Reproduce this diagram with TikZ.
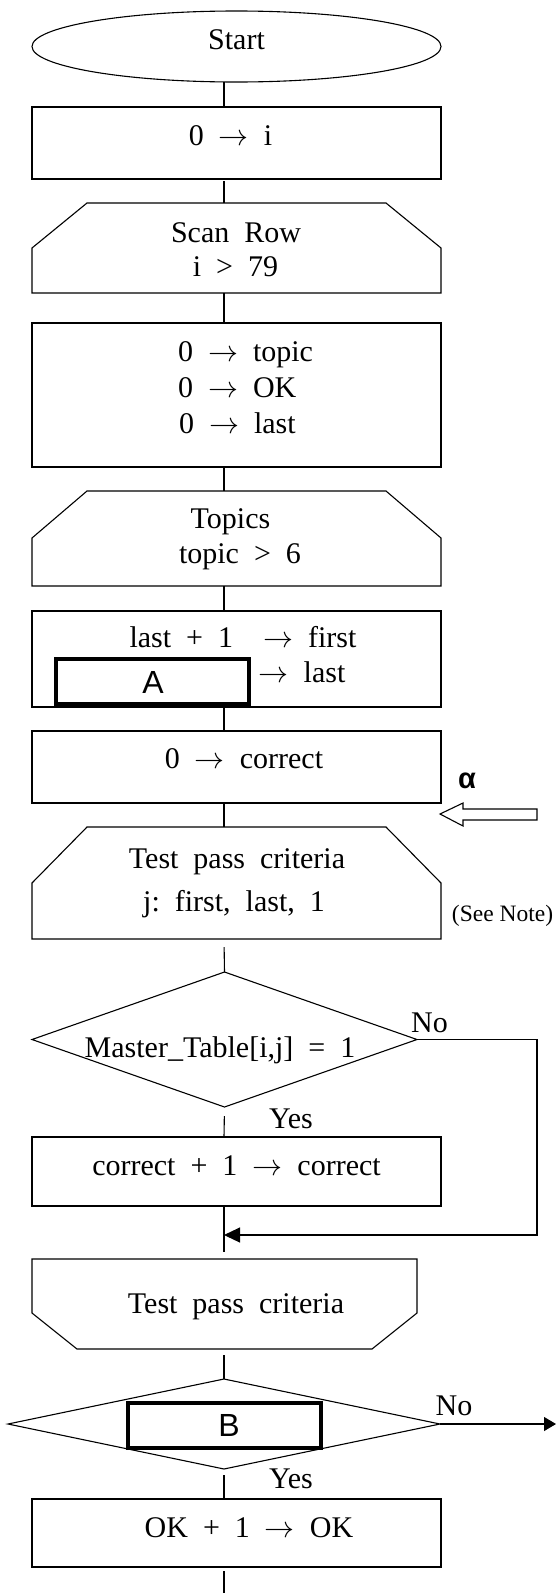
\RequirePackage{fix-cm}
\documentclass[tikz,border=0pt]{standalone}
\usepackage{fontspec}
\setmainfont{Liberation Serif}
\newfontfamily\sansA{Liberation Sans}
\usetikzlibrary{shapes.geometric,arrows.meta,calc}
\newcommand{\tor}{$\rightarrow$}
\begin{document}
\begin{tikzpicture}[x=1pt,y=-1pt,
  every node/.style={inner sep=0pt,outer sep=0pt},
  ln/.style={line width=1.1pt},
  txt/.style={anchor=base,font=\fontsize{30}{36}\selectfont},
  smalltxt/.style={anchor=base,font=\fontsize{23.5}{28}\selectfont},
  sanstxt/.style={anchor=base,font=\sansA\fontsize{32}{38}\selectfont},
  alphatxt/.style={anchor=base,font=\sansA\bfseries\fontsize{29}{34}\selectfont},
  procbox/.style={draw,line width=1.1pt,rectangle,minimum width=409pt},
  loopbox/.style={rectangle,minimum width=409pt},
  subbox/.style={draw,line width=3.2pt,rectangle,minimum width=193pt,minimum height=45pt},
  decision/.style={draw,line width=1.1pt,diamond},
  terminal/.style={draw,line width=1.1pt,ellipse,minimum width=409pt,minimum height=71pt},
  conn/.style={line width=1.1pt},
]
\useasboundingbox (0,0) rectangle (556,1593);
\coordinate (axis) at (224,0);

% shapes
\node[terminal] (start) at (236.5,46.5) {};
\node[procbox,minimum height=72pt] (b1) at (236.5,143) {};
\node[loopbox,minimum height=90pt] (h1) at (236.5,248) {};
\node[procbox,minimum height=144pt] (b2) at (236.5,395) {};
\node[loopbox,minimum height=95pt] (h2) at (236.5,538.5) {};
\node[procbox,minimum height=96pt] (b3) at (236.5,659) {};
\node[subbox] (ba) at (152.5,681.5) {};
\node[procbox,minimum height=72pt] (b4) at (236.5,767) {};
\node[loopbox,minimum height=112pt] (h3) at (236.5,883) {};
\node[decision,minimum width=385pt,minimum height=135pt] (d1) at (224.5,1039.5) {};
\node[procbox,minimum height=69pt] (b5) at (236.5,1171.5) {};
\node[loopbox,minimum width=385pt,minimum height=90pt] (h4) at (224.5,1304) {};
\node[decision,minimum width=432pt,minimum height=90pt] (d2) at (224,1424) {};
\node[subbox] (bb) at (224.5,1425.5) {};
\node[procbox,minimum height=68pt] (ok) at (236.5,1533) {};

% loop outlines
\draw[ln] ($(h1.north west)+(55,0)$) -- ($(h1.north east)+(-55,0)$) -- ($(h1.north east)+(0,45)$)
  -- (h1.south east) -- (h1.south west) -- ($(h1.north west)+(0,45)$) -- cycle;
\draw[ln] ($(h2.north west)+(55,0)$) -- ($(h2.north east)+(-55,0)$) -- ($(h2.north east)+(0,47)$)
  -- (h2.south east) -- (h2.south west) -- ($(h2.north west)+(0,47)$) -- cycle;
\draw[ln] ($(h3.north west)+(55,0)$) -- ($(h3.north east)+(-55,0)$) -- ($(h3.north east)+(0,56)$)
  -- (h3.south east) -- (h3.south west) -- ($(h3.north west)+(0,56)$) -- cycle;
\draw[ln] (h4.north west) -- (h4.north east) -- ($(h4.south east)+(0,-36)$)
  -- ($(h4.south east)+(-45,0)$) -- ($(h4.south west)+(45,0)$) -- ($(h4.south west)+(0,-36)$) -- cycle;

% texts
\node[txt] (tstart) at (236.5,49) {Start};
\node[txt] (t1) at (230.5,145) {0~~\tor~~i};
\node[txt] (th1a) at (236,242) {Scan~~Row};
\node[txt] (th1b) at (235.5,276) {i~~>~~79};
\node[txt,anchor=base west] (t2a) at (178,361) {0~~\tor~~topic};
\node[txt,anchor=base west] (t2b) at (178,397) {0~~\tor~~OK};
\node[txt,anchor=base west] (t2c) at (179,433) {0~~\tor~~last};
\node[txt] (th2a) at (230.5,528) {Topics};
\node[txt] (th2b) at (240,563) {topic~~>~~6};
\node[txt] (t3a) at (243,647) {last~~+~~1~~~~\tor~~first};
\node[txt] (t3b) at (302,682) {\tor~~last};
\node[sanstxt] (ta) at (153,693) {A};
\node[txt] (t4) at (244,768) {0~~\tor~~correct};
\node[txt] (th3a) at (237,868) {Test~~pass~~criteria};
\node[txt] (th3b) at (234,911) {j:~~first,~~last,~~1};
\node[smalltxt] (note) at (502.5,921) {(See Note)};
\node[txt] (td1) at (220,1057) {Master\_Table[i,j]~~=~~1};
\node[txt] (no1) at (429.5,1032) {No};
\node[txt] (yes1) at (291,1128) {Yes};
\node[txt] (t5) at (236.5,1175) {correct~~+~~1~~\tor~~correct};
\node[txt] (th4) at (236,1313) {Test~~pass~~criteria};
\node[sanstxt] (tb) at (229,1436) {B};
\node[txt] (no2) at (454,1415) {No};
\node[txt] (yes2) at (291,1488) {Yes};
\node[txt] (tok) at (249,1537) {OK~~+~~1~~\tor~~OK};
\node[alphatxt] (alpha) at (467,788) {α};

% connectors
\draw[conn] (start.south -| axis) -- (b1.north -| axis);
\draw[conn,shorten <=2pt] (b1.south -| axis) -- (h1.north -| axis);
\draw[conn] (h1.south -| axis) -- (b2.north -| axis);
\draw[conn] (b2.south -| axis) -- (h2.north -| axis);
\draw[conn] (h2.south -| axis) -- (b3.north -| axis);
\draw[conn] (b3.south -| axis) -- (b4.north -| axis);
\draw[conn] (b4.south -| axis) -- (h3.north -| axis);
\draw[conn,shorten <=8pt] (h3.south -| axis) -- (d1.north);
\draw[conn,shorten <=9pt] (d1.south) -- (b5.north -| axis);
\draw[conn,shorten >=7pt] (b5.south -| axis) -- (h4.north -| axis);
\draw[conn,shorten <=6pt] (h4.south -| axis) -- (d2.north);
\draw[conn,shorten <=6pt] (d2.south) -- (ok.north -| axis);
\coordinate (bottom) at (224,1593);
\draw[conn,shorten <=4pt] (ok.south -| axis) -- (bottom);

% No branch 1 (loop back)
\coordinate (r1) at (537,1041);
\coordinate (j1) at (224,1235);
\draw[conn,-{Triangle[length=16pt,width=15pt]}] (d1.east) -- (d1.east -| r1) -- (r1 |- j1) -- (j1);

% No branch 2
\coordinate (out) at (556,1426);
\draw[conn,-{Triangle[length=12pt,width=14pt]}] (d2.east) -- (d2.east -| out);

% hollow arrow alpha
\coordinate (atip) at (440,814);
\draw[ln,line join=miter] (atip) -- ++(23,-11) -- ++(0,6) -- ++(74,0) -- ++(0,11) -- ++(-74,0) -- ++(0,6) -- cycle;
\end{tikzpicture}
\end{document}
